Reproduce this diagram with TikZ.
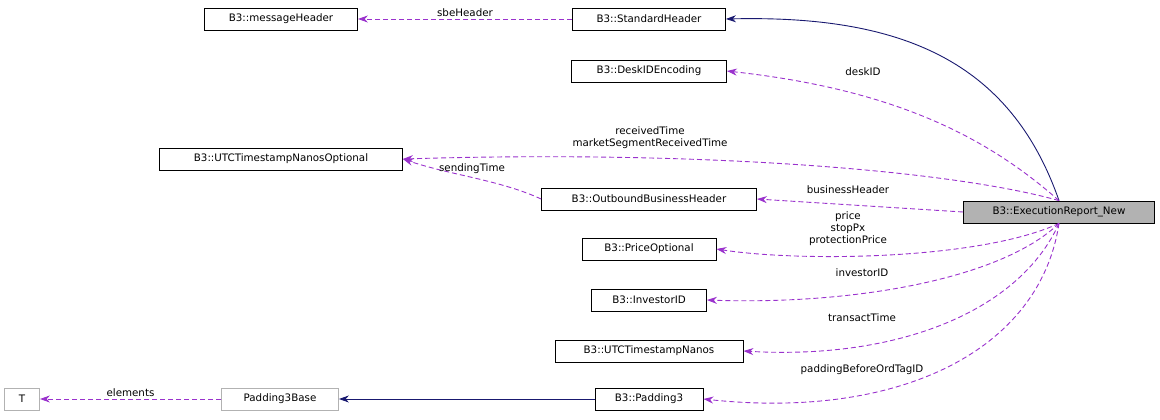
\documentclass[tikz,border=0pt]{standalone}
\usepackage{fontspec}
\setmainfont{DejaVu Sans}
\usetikzlibrary{arrows.meta}
\begin{document}
\begin{tikzpicture}[x=1pt,y=-1pt,line width=0.9pt,
 cls/.style={draw=black,fill=white,line width=0.8pt,inner sep=0pt,minimum height=22pt,font=\fontsize{10.3}{11}\selectfont},
 gcls/.style={cls,draw=gray!60},
 dep/.style={draw={rgb,255:red,154;green,50;blue,205},dash pattern=on 5pt off 3pt,-{Stealth[length=10pt,width=7pt,sep=0pt]}},
 inh/.style={draw={rgb,255:red,25;green,25;blue,112},-{Stealth[length=10pt,width=7pt]}},
 lbl/.style={font=\fontsize{10.3}{12}\selectfont,align=center,inner sep=0pt}]
\useasboundingbox (0,0) rectangle (1160,420);
\node[gcls,minimum width=35pt] (T) at (22,399) {T};
\node[gcls,minimum width=117pt] (p3b) at (280,399) {Padding3Base};
\node[cls,minimum width=108pt] (p3) at (649,399) {B3::Padding3};
\node[cls,minimum width=188pt] (utn) at (649,351) {B3::UTCTimestampNanos};
\node[cls,minimum width=115pt] (inv) at (649,300) {B3::InvestorID};
\node[cls,minimum width=134pt] (po) at (649,249) {B3::PriceOptional};
\node[cls,minimum width=215pt] (obh) at (649,199) {B3::OutboundBusinessHeader};
\node[cls,minimum width=243pt] (utno) at (281,159) {B3::UTCTimestampNanosOptional};
\node[cls,minimum width=155pt] (desk) at (649,71) {B3::DeskIDEncoding};
\node[cls,minimum width=153pt] (sh) at (649,19) {B3::StandardHeader};
\node[cls,minimum width=153pt] (mh) at (281,19) {B3::messageHeader};
\node[cls,fill=gray!60,minimum width=191pt] (er) at (1059,212) {B3::ExecutionReport\_New};

\draw[inh] (er.north) .. controls (1010,60) and (900,15) .. (sh.east);
\draw[dep] (sh.west) -- node[lbl,above=2pt]{sbeHeader} (mh.east);
\draw[dep] (er.north) .. controls (990,140) and (900,90) .. (desk.east);
\node[lbl] at (863,72) {deskID};
\draw[dep] (er.north) .. controls (950,170) and (700,150) .. (utno.east);
\node[lbl] at (650,138) {receivedTime\\marketSegmentReceivedTime};
\draw[dep] (obh.west) .. controls (500,180) and (450,175) .. (utno.east);
\node[lbl] at (472,169) {sendingTime};
\draw[dep] (er.west) -- (obh.east);
\node[lbl] at (848,190) {businessHeader};
\draw[dep] (er.south) .. controls (980,260) and (800,262) .. (po.east);
\node[lbl] at (848,229) {price\\stopPx\\protectionPrice};
\draw[dep] (er.south) .. controls (1000,280) and (850,305) .. (inv.east);
\node[lbl] at (862,273) {investorID};
\draw[dep] (er.south) .. controls (1020,310) and (900,360) .. (utn.east);
\node[lbl] at (862,318) {transactTime};
\draw[dep] (er.south) .. controls (1040,350) and (900,420) .. (p3.east);
\node[lbl] at (862,370) {paddingBeforeOrdTagID};
\draw[inh] (p3.west) -- (p3b.east);
\draw[dep] (p3b.west) -- node[lbl,above=2pt]{elements} (T.east);
\end{tikzpicture}
\end{document}
